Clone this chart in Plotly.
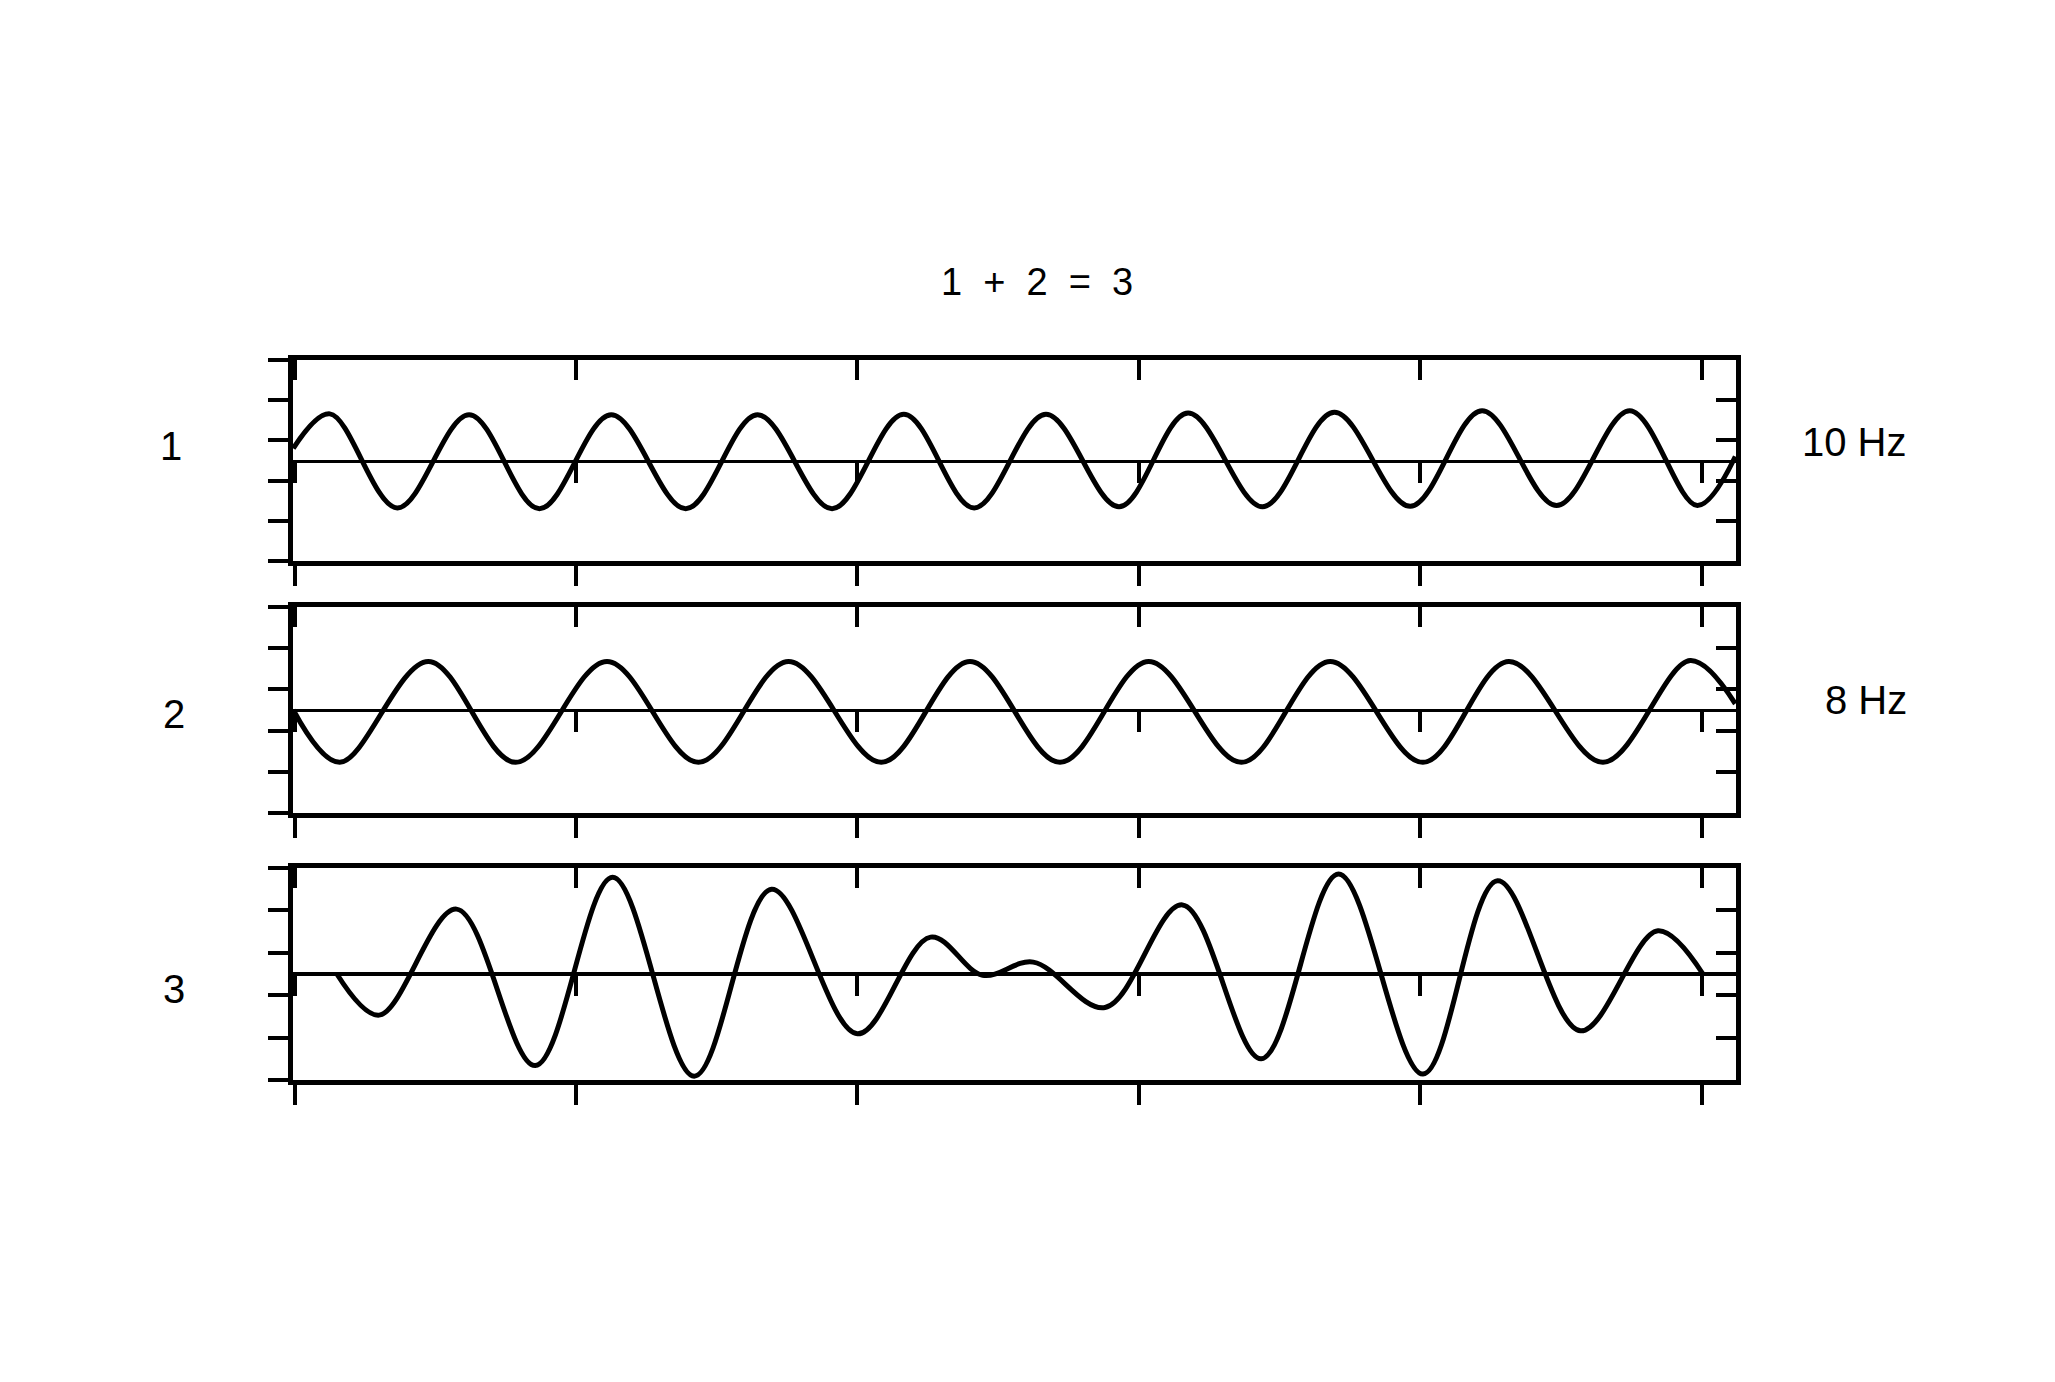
import plotly.graph_objects as go

# ---------------- data ----------------
title_text = "1 + 2 = 3"
row_labels = ["1", "2", "3"]
freq_labels = ["10 Hz", "8 Hz"]

x_ticks = [0.0, 0.2, 0.4, 0.6, 0.8, 1.0]
y_ticks = [-2.5, -1.5, -0.5, 0.5, 1.5, 2.5]

# trace 1 (10 Hz): start, alternating peaks / troughs, end
wave1_t = [-0.001, 0.025, 0.073, 0.124, 0.174, 0.225, 0.278, 0.329, 0.382,
           0.433, 0.483, 0.534, 0.586, 0.635, 0.688, 0.739, 0.793, 0.844,
           0.897, 0.949, 0.997, 1.024]
wave1_v = [0.30, 1.16, -1.18, 1.14, -1.20, 1.14, -1.20, 1.14, -1.20,
           1.15, -1.18, 1.15, -1.15, 1.18, -1.15, 1.20, -1.14, 1.24,
           -1.12, 1.24, -1.12, 0.10]

# trace 2 (8 Hz)
wave2_t = [-0.001, 0.032, 0.095, 0.157, 0.222, 0.287, 0.351, 0.417, 0.480,
           0.544, 0.607, 0.673, 0.736, 0.802, 0.863, 0.930, 0.992, 1.024]
wave2_v = [0.00, -1.27, 1.18, -1.27, 1.18, -1.27, 1.18, -1.27, 1.18,
           -1.27, 1.18, -1.27, 1.18, -1.27, 1.18, -1.27, 1.20, 0.15]

# trace 3 (sum)
wave3_t = [0.030, 0.060, 0.115, 0.171, 0.226, 0.284, 0.339, 0.400, 0.452,
           0.489, 0.525, 0.576, 0.631, 0.687, 0.742, 0.802, 0.855, 0.914,
           0.969, 1.001]
wave3_v = [0.00, -0.97, 1.53, -2.16, 2.28, -2.41, 2.00, -1.41, 0.87,
           -0.03, 0.28, -0.79, 1.63, -2.00, 2.36, -2.36, 2.20, -1.34,
           1.02, 0.00]

waves = [(wave1_t, wave1_v), (wave2_t, wave2_v), (wave3_t, wave3_v)]

# ---------------- layout / style ----------------
W, H = 2055, 1382
X_DOMAIN = [293 / W, 1736 / W]
PANEL_PX = [(360, 561), (607, 813), (868, 1080)]
X_RANGE = [-0.0012, 1.0245]
Y_RANGE = [-2.5, 2.5]
MID_W = [3, 3, 4]
FONT = "Liberation Sans, Arial, Helvetica, sans-serif"


def xname(n):
    return "x" if n == 1 else f"x{n}"


def yname(n):
    return "y" if n == 1 else f"y{n}"


def xkey(n):
    return "xaxis" if n == 1 else f"xaxis{n}"


def ykey(n):
    return "yaxis" if n == 1 else f"yaxis{n}"


common = dict(showgrid=False, zeroline=False, showticklabels=False,
              ticklen=20, tickwidth=4, tickcolor="black",
              linecolor="black", fixedrange=True, showline=True)

fig = go.Figure()
layout = {}

for i, (top, bot) in enumerate(PANEL_PX):
    dom = [1 - bot / H, 1 - top / H]
    xn = 3 * i + 1
    yn = 2 * i + 1
    layout[xkey(xn)] = dict(domain=X_DOMAIN, anchor=yname(yn), range=X_RANGE,
                            tickvals=x_ticks, ticks="outside", side="bottom",
                            linewidth=5, **common)
    layout[xkey(xn + 1)] = dict(overlaying=xname(xn), anchor=yname(yn), range=X_RANGE,
                                tickvals=x_ticks, ticks="inside", side="top",
                                linewidth=5, **common)
    layout[xkey(xn + 2)] = dict(overlaying=xname(xn), anchor="free",
                                position=(dom[0] + dom[1]) / 2, range=X_RANGE,
                                tickvals=x_ticks, ticks="outside", side="bottom",
                                linewidth=MID_W[i], **common)
    layout[ykey(yn)] = dict(domain=dom, anchor=xname(xn), range=Y_RANGE,
                            tickvals=y_ticks, ticks="outside", side="left",
                            linewidth=5, **common)
    layout[ykey(yn + 1)] = dict(overlaying=yname(yn), anchor=xname(xn), range=Y_RANGE,
                                tickvals=y_ticks, ticks="inside", side="right",
                                linewidth=5, **common)

    t, v = waves[i]
    fig.add_trace(go.Scatter(x=t, y=v, mode="lines", xaxis=xname(xn), yaxis=yname(yn),
                             line=dict(color="black", width=5, shape="spline", smoothing=1),
                             showlegend=False, hoverinfo="skip"))
    # invisible helpers so every overlay axis has a subplot
    for xa, ya in [(xname(xn + 1), yname(yn)), (xname(xn + 2), yname(yn)),
                   (xname(xn), yname(yn + 1))]:
        fig.add_trace(go.Scatter(x=[0.5], y=[0], mode="markers", xaxis=xa, yaxis=ya,
                                 marker=dict(opacity=0), showlegend=False,
                                 hoverinfo="skip"))

annotations = [dict(text=title_text.replace(" ", "\u00a0\u00a0"), x=1037 / W, y=1 - 282 / H,
                    xref="paper", yref="paper", showarrow=False,
                    xanchor="center", yanchor="middle",
                    font=dict(size=38, color="black", family=FONT))]
label_y = [446, 714, 989]
label_x = [171, 174, 174]
for lab, xx, yy in zip(row_labels, label_x, label_y):
    annotations.append(dict(text=lab, x=xx / W, y=1 - yy / H, xref="paper", yref="paper",
                            xanchor="center", yanchor="middle", showarrow=False,
                            font=dict(size=40, color="black", family=FONT)))
freq_y = [442, 700]
for lab, yy in zip(freq_labels, freq_y):
    annotations.append(dict(text=lab, x=1909 / W, y=1 - yy / H, xref="paper", yref="paper",
                            xanchor="right", yanchor="middle", showarrow=False,
                            font=dict(size=40, color="black", family=FONT)))

fig.update_layout(width=W, height=H, margin=dict(l=0, r=0, t=0, b=0),
                  paper_bgcolor="white", plot_bgcolor="white",
                  annotations=annotations, **layout)

fig.write_html("out.html")
